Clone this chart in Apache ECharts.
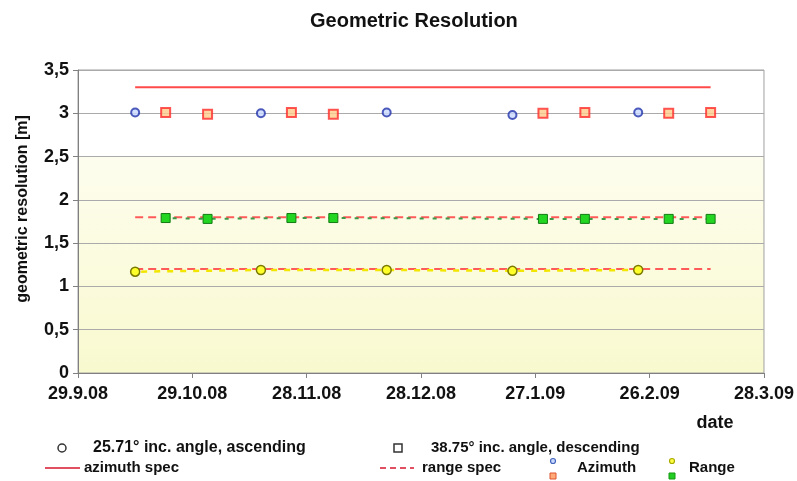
<!DOCTYPE html>
<html>
<head>
<meta charset="utf-8">
<script src="https://cdn.jsdelivr.net/npm/echarts@6/dist/echarts.min.js"></script>
<style>
  html, body { margin: 0; padding: 0; background: #fff; }
  #chart { width: 797px; height: 481px; }
</style>
</head>
<body>
<div id="chart"></div>
<script>
// x values are days after 29.9.08
const tickLabels = ['29.9.08', '29.10.08', '28.11.08', '28.12.08', '27.1.09', '26.2.09', '28.3.09']
const ascDays = [15, 48, 81, 114, 147]
const descDays = [23, 34, 56, 67, 122, 133, 155, 166]
const azimuthAsc = [3.01, 3.00, 3.01, 2.98, 3.01]
const azimuthDesc = [3.01, 2.99, 3.01, 2.99, 3.00, 3.01, 3.00, 3.01]
const rangeAsc = [1.17, 1.19, 1.19, 1.18, 1.19]
const rangeDesc = [1.79, 1.78, 1.79, 1.79, 1.78, 1.78, 1.78, 1.78]
const specDays = [15, 166]
const azimuthSpec = [3.3, 3.3]
const rangeSpecDesc = [1.8, 1.8]
const rangeSpecAsc = [1.2, 1.2]

const font = '"Liberation Sans", Arial, sans-serif'
const pair = (xs, ys) => xs.map((x, i) => [x, ys[i]])

const chart = echarts.init(document.getElementById('chart'))

chart.setOption({
  animation: false,
  textStyle: { fontFamily: font },
  title: {
    text: 'Geometric Resolution',
    left: 305,
    top: 6,
    textStyle: { fontSize: 20, fontWeight: 'bold', color: '#111', fontFamily: font }
  },
  grid: {
    left: 78, right: 33, top: 70, bottom: 108,
    show: true,
    borderColor: '#a0a0a0',
    borderWidth: 1,
    backgroundColor: {
      type: 'linear', x: 0, y: 0, x2: 0, y2: 1,
      colorStops: [
        { offset: 0, color: '#ffffff' },
        { offset: 0.2857, color: '#ffffff' },
        { offset: 0.2858, color: '#fdfdee' },
        { offset: 1, color: '#f9f9cf' }
      ]
    }
  },
  xAxis: {
    type: 'value',
    min: 0, max: 180, interval: 30,
    axisLine: { lineStyle: { color: '#808080', width: 1 } },
    axisTick: { show: true, length: 5, lineStyle: { color: '#808080' } },
    splitLine: { show: false },
    axisLabel: {
      margin: 12,
      fontSize: 18, fontWeight: 'bold', color: '#111', fontFamily: font,
      formatter: v => tickLabels[Math.round(v / 30)]
    }
  },
  yAxis: {
    type: 'value',
    min: 0, max: 3.5, interval: 0.5,
    axisLine: { show: true, lineStyle: { color: '#808080', width: 1 } },
    axisTick: { show: true, length: 5, lineStyle: { color: '#808080' } },
    splitLine: { lineStyle: { color: '#aaaaaa', width: 1 } },
    axisLabel: {
      margin: 9,
      fontSize: 18, fontWeight: 'bold', color: '#111', fontFamily: font,
      formatter: v => String(v).replace('.', ',')
    }
  },
  series: [
    {
      name: 'azimuth spec', type: 'line', data: pair(specDays, azimuthSpec),
      symbol: 'none', lineStyle: { color: '#ff4a4a', width: 2 }, z: 2
    },
    {
      name: 'range spec', type: 'line', data: pair(specDays, rangeSpecDesc),
      symbol: 'none', lineStyle: { color: '#ff5a5a', width: 2, type: [8, 5] }, z: 2
    },
    {
      name: 'range spec', type: 'line', data: pair(specDays, rangeSpecAsc),
      symbol: 'none', lineStyle: { color: '#ff5a5a', width: 2, type: [8, 5] }, z: 2
    },
    {
      name: 'Range descending', type: 'line', data: pair(descDays, rangeDesc),
      symbol: 'rect', symbolSize: 9, showAllSymbol: true,
      lineStyle: { color: '#3a9a4a', width: 2, type: [4, 9], dashOffset: 6 },
      itemStyle: { color: '#22d622', borderColor: '#127a12', borderWidth: 1 }, z: 3
    },
    {
      name: 'Range ascending', type: 'line', data: pair(ascDays, rangeAsc),
      symbol: 'circle', symbolSize: 9, showAllSymbol: true,
      lineStyle: { color: '#f2e600', width: 2.5, type: [6, 7], dashOffset: 7 },
      itemStyle: { color: '#ffff2a', borderColor: '#7a7a00', borderWidth: 1.5 }, z: 3
    },
    {
      name: 'Azimuth descending', type: 'scatter', data: pair(descDays, azimuthDesc),
      symbol: 'rect', symbolSize: 9,
      itemStyle: { color: '#ffcc8a', borderColor: '#ff2a2a', borderWidth: 2 }, z: 4
    },
    {
      name: 'Azimuth ascending', type: 'scatter', data: pair(ascDays, azimuthAsc),
      symbol: 'circle', symbolSize: 8,
      itemStyle: { color: '#c8d8ff', borderColor: '#2233aa', borderWidth: 2 }, z: 4
    }
  ],
  graphic: [
    // y axis name
    {
      type: 'text', x: 23, y: 209, rotation: Math.PI / 2,
      style: {
        text: 'geometric resolution [m]', font: 'bold 16px ' + font, fill: '#111',
        textAlign: 'center', textVerticalAlign: 'middle'
      }
    },
    // x axis name
    {
      type: 'text', x: 715, y: 423,
      style: { text: 'date', font: 'bold 18px ' + font, fill: '#111', textAlign: 'center', textVerticalAlign: 'middle' }
    },
    // legend row 1
    { type: 'circle', shape: { cx: 62, cy: 448, r: 4 }, style: { fill: '#fff', stroke: '#333', lineWidth: 1.5 } },
    {
      type: 'text', x: 93, y: 448,
      style: { text: '25.71° inc. angle, ascending', font: 'bold 16px ' + font, fill: '#111', textVerticalAlign: 'middle' }
    },
    { type: 'rect', shape: { x: 394, y: 444, width: 8, height: 8 }, style: { fill: '#fff', stroke: '#333', lineWidth: 1.5 } },
    {
      type: 'text', x: 431, y: 448,
      style: { text: '38.75° inc. angle, descending', font: 'bold 15px ' + font, fill: '#111', textVerticalAlign: 'middle' }
    },
    // legend row 2
    { type: 'line', shape: { x1: 45, y1: 468, x2: 80, y2: 468 }, style: { stroke: '#e05060', lineWidth: 2 } },
    {
      type: 'text', x: 84, y: 468,
      style: { text: 'azimuth spec', font: 'bold 15px ' + font, fill: '#111', textVerticalAlign: 'middle' }
    },
    { type: 'line', shape: { x1: 380, y1: 468, x2: 414, y2: 468 }, style: { stroke: '#e05060', lineWidth: 2, lineDash: [6, 4] } },
    {
      type: 'text', x: 422, y: 468,
      style: { text: 'range spec', font: 'bold 15px ' + font, fill: '#111', textVerticalAlign: 'middle' }
    },
    { type: 'circle', shape: { cx: 553, cy: 461, r: 2.5 }, style: { fill: '#c8d8ff', stroke: '#4466bb', lineWidth: 1.2 } },
    { type: 'rect', shape: { x: 550, y: 473, width: 6, height: 6 }, style: { fill: '#ffaa77', stroke: '#dd5533', lineWidth: 1 } },
    {
      type: 'text', x: 577, y: 468,
      style: { text: 'Azimuth', font: 'bold 15px ' + font, fill: '#111', textVerticalAlign: 'middle' }
    },
    { type: 'circle', shape: { cx: 672, cy: 461, r: 2.5 }, style: { fill: '#ffff44', stroke: '#aaaa00', lineWidth: 1.2 } },
    { type: 'rect', shape: { x: 669, y: 473, width: 6, height: 6 }, style: { fill: '#22cc22', stroke: '#119911', lineWidth: 1 } },
    {
      type: 'text', x: 689, y: 468,
      style: { text: 'Range', font: 'bold 15px ' + font, fill: '#111', textVerticalAlign: 'middle' }
    }
  ]
})
</script>
</body>
</html>
